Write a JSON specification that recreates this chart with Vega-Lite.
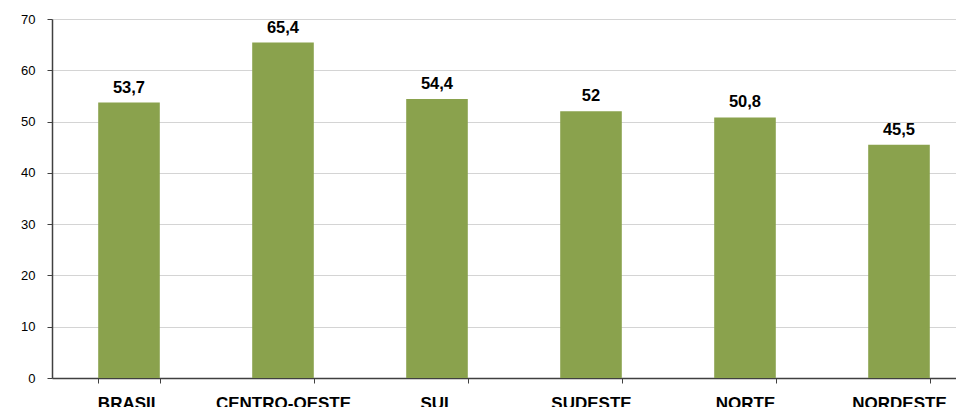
{
  "$schema": "https://vega.github.io/schema/vega-lite/v6.json",
  "autosize": {"type": "none"},
  "padding": {"left": 52, "top": 19, "right": 0, "bottom": 30},
  "width": 924,
  "height": 359,
  "background": "white",
  "config": {
    "locale": {"number": {"decimal": ",", "thousands": ".", "grouping": [3], "currency": ["R$", ""]}},
    "view": {"stroke": null},
    "font": "Liberation Sans"
  },
  "data": {
    "values": [
      {"regiao": "BRASIL", "valor": 53.7},
      {"regiao": "CENTRO-OESTE", "valor": 65.4},
      {"regiao": "SUL", "valor": 54.4},
      {"regiao": "SUDESTE", "valor": 52},
      {"regiao": "NORTE", "valor": 50.8},
      {"regiao": "NORDESTE", "valor": 45.5}
    ]
  },
  "encoding": {
    "x": {
      "field": "regiao",
      "type": "nominal",
      "sort": null,
      "scale": {"paddingInner": 0.6, "paddingOuter": 0.3},
      "axis": {
        "title": null,
        "labelAngle": 0,
        "labelFont": "Liberation Sans",
        "labelFontSize": 17,
        "labelFontWeight": "bold",
        "labelColor": "#000000",
        "labelPadding": 12,
        "tickBand": "extent",
        "tickSize": 5,
        "tickColor": "#404040",
        "domainColor": "#404040",
        "domainWidth": 1.5,
        "grid": false
      }
    },
    "y": {
      "field": "valor",
      "type": "quantitative",
      "scale": {"domain": [0, 70], "nice": false},
      "axis": {
        "title": null,
        "values": [0, 10, 20, 30, 40, 50, 60, 70],
        "labelFont": "Liberation Sans",
        "labelFontSize": 13,
        "labelColor": "#000000",
        "labelPadding": 12,
        "tickSize": 5,
        "tickColor": "#404040",
        "domainColor": "#404040",
        "domainWidth": 1.5,
        "grid": true,
        "gridColor": "#D4D4D4",
        "gridWidth": 1
      }
    }
  },
  "layer": [
    {
      "mark": {"type": "bar", "color": "#8AA24D"}
    },
    {
      "mark": {
        "type": "text",
        "baseline": "alphabetic",
        "dy": -10,
        "fontSize": 16.5,
        "fontWeight": "bold",
        "color": "#000000",
        "font": "Liberation Sans"
      },
      "encoding": {
        "text": {"field": "valor", "type": "quantitative", "format": ".1~f"}
      }
    }
  ]
}
